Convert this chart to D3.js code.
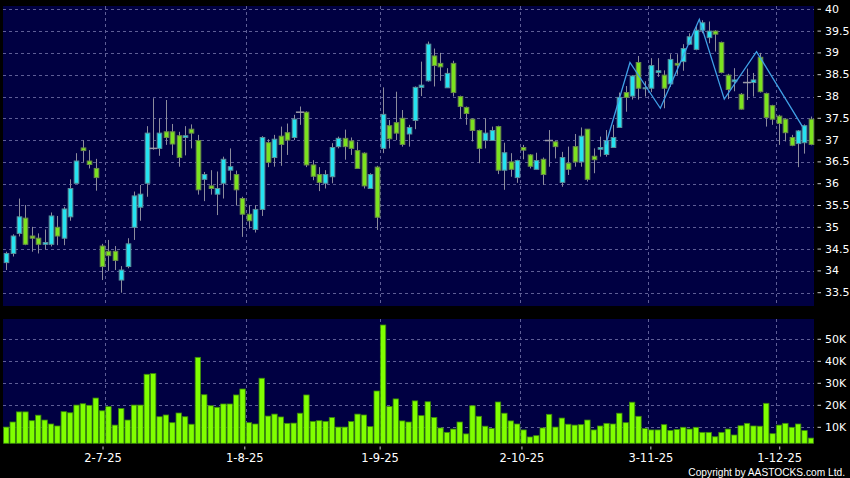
<!DOCTYPE html>
<html><head><meta charset="utf-8">
<script src="https://cdn.jsdelivr.net/npm/d3@7"></script>
<style>body{margin:0;background:#000}svg{display:block}</style>
</head><body><svg id="c" width="850" height="478"></svg>
<script>
// ---- data (daily candles, HK trading days) ----
const openP  = [34.19,34.40,34.86,35.21,34.80,34.75,34.61,34.61,35.00,34.75,35.24,36.01,36.82,36.52,36.35,34.57,34.45,34.45,33.79,34.10,
35.00,35.46,36.01,36.81,36.81,37.19,37.19,37.10,37.06,37.25,36.99,36.10,35.95,35.76,36.01,36.31,36.21,35.66,35.30,34.95,
35.41,36.94,36.60,37.09,37.17,37.06,37.64,37.64,36.43,36.21,36.01,36.16,36.85,37.04,36.98,36.76,36.70,35.89,36.38,36.81,
37.33,37.40,37.50,37.14,37.45,38.21,38.36,38.93,38.76,38.20,38.76,38.00,37.75,37.48,37.22,36.99,36.99,37.31,36.31,36.50,
36.14,36.83,36.66,36.33,36.56,36.99,36.96,36.03,36.47,36.85,36.50,37.25,36.63,36.79,36.67,36.83,37.29,38.09,38.01,38.78,
38.18,38.19,38.55,38.49,38.29,38.76,38.80,39.20,39.08,39.52,39.35,39.50,39.24,38.49,38.34,38.05,38.32,38.32,38.90,38.07,
37.79,37.55,37.48,37.06,36.92,36.94,37.48];
const highP  = [34.44,34.84,35.66,35.51,35.01,34.86,34.95,35.34,35.26,35.47,36.10,36.70,37.00,36.77,36.57,34.62,34.71,34.57,34.11,34.75,
35.82,35.97,37.32,37.96,37.50,37.92,37.37,37.19,37.32,37.36,37.12,36.27,36.31,36.28,36.62,36.81,36.30,35.70,35.51,35.51,
37.09,37.02,37.12,37.31,37.38,37.58,37.77,37.66,36.54,36.38,36.31,36.93,37.08,37.24,37.06,36.96,36.72,36.24,36.41,38.21,
37.46,38.11,37.69,37.35,38.23,38.80,39.26,39.10,39.00,38.65,38.82,38.02,37.77,37.50,37.24,37.50,37.31,37.33,36.94,36.70,
36.55,36.89,36.68,36.71,36.60,37.23,36.98,36.73,36.85,37.14,37.29,37.25,36.81,37.08,37.23,37.35,38.09,38.24,38.49,38.93,
38.35,38.88,38.88,38.60,38.97,38.97,39.20,39.45,39.64,39.75,39.72,39.52,39.26,38.52,38.65,38.08,38.64,38.54,39.00,38.09,
37.81,37.58,37.50,37.12,37.23,37.36,37.54];
const lowP   = [34.02,34.33,34.79,34.59,34.44,34.40,34.49,34.56,34.59,34.59,35.15,36.01,36.50,36.35,35.84,33.79,34.00,34.02,33.50,34.06,
34.71,35.15,35.70,36.78,36.64,36.89,36.66,36.39,36.65,36.81,35.75,35.60,35.75,35.28,35.66,36.08,35.50,34.78,34.97,34.88,
35.26,36.38,36.39,36.41,36.66,37.00,37.35,36.38,36.08,35.83,35.89,36.01,36.81,36.55,36.66,36.35,35.89,35.89,34.94,36.70,
36.81,37.00,36.85,36.85,37.25,38.01,38.34,38.23,38.36,38.20,38.00,37.50,37.35,36.97,36.47,36.81,36.99,36.22,35.86,36.16,
36.02,36.56,36.35,36.33,35.97,36.39,36.58,35.93,36.20,36.39,36.39,36.05,36.24,36.62,36.62,36.83,37.29,37.65,37.93,37.93,
38.00,38.10,38.45,37.73,38.22,38.50,38.59,39.18,39.06,39.45,39.22,39.03,38.53,37.94,38.12,37.70,37.92,38.00,38.09,37.31,
37.35,36.89,36.97,36.86,36.38,36.69,36.88];
const closeP = [34.40,34.80,35.24,34.61,34.75,34.61,34.65,35.26,34.80,35.42,35.89,36.52,36.76,36.44,36.14,34.10,34.35,34.24,34.02,34.62,
35.72,35.76,37.16,36.81,37.16,37.06,36.91,36.60,37.10,37.16,35.86,36.21,35.89,35.89,36.56,36.39,35.86,35.30,35.15,35.41,
37.06,36.49,37.02,36.90,37.00,37.48,37.64,36.43,36.17,36.03,36.21,36.83,37.04,36.85,36.81,36.35,35.95,36.21,35.23,37.59,
37.03,37.16,36.90,37.29,38.21,38.26,39.20,38.71,38.68,38.53,38.09,37.77,37.61,37.22,36.81,37.16,37.22,36.31,36.71,36.33,
36.53,36.77,36.40,36.53,36.21,36.99,36.85,36.60,36.33,36.50,37.09,36.10,36.55,36.83,36.99,37.06,37.98,37.98,38.47,38.19,
38.20,38.71,38.59,38.19,38.85,38.72,39.10,39.37,39.52,39.69,39.50,39.43,38.55,38.16,38.38,37.71,38.32,38.38,38.11,37.52,
37.48,37.38,37.17,36.88,37.21,37.33,36.90];
const volumeK = [10.1,12.4,17.0,17.0,13.0,15.5,13.3,11.5,10.6,17.1,16.6,20.1,20.7,20.0,23.3,17.5,19.4,11.0,18.5,13.3,
20.1,20.1,34.1,34.4,14.8,15.6,12.1,16.5,14.8,11.4,41.8,24.8,19.8,19.1,20.6,20.6,24.7,27.4,12.1,11.5,
32.3,15.1,16.0,14.7,11.8,11.9,16.4,24.7,12.7,13.0,12.7,14.4,10.1,10.1,12.6,16.0,15.6,10.3,26.5,56.5,
19.5,22.9,12.9,12.4,22.0,15.3,21.6,14.5,9.7,7.7,9.2,12.4,7.0,19.8,15.0,10.5,9.5,21.5,16.4,12.9,
11.5,8.8,5.6,6.2,9.7,15.9,10.1,14.2,11.4,11.0,11.2,13.3,8.8,10.6,11.8,11.5,16.4,12.1,21.4,15.0,
9.4,8.8,8.8,11.2,8.6,9.0,10.0,9.2,10.0,7.7,7.7,5.7,7.7,9.2,6.5,10.7,11.8,10.6,10.5,20.9,
7.1,11.0,11.8,10.0,11.5,8.5,5.1];
const priceTicks = [33.5,34,34.5,35,35.5,36,36.5,37,37.5,38,38.5,39,39.5,40];
const volTicks = [10,20,30,40,50];
const volTickLabels = ["10K","20K","30K","40K","50K"];
const dateTickIdx = [16,38,59,81,101,121];
const dateTickLabels = ["2-7-25","1-8-25","1-9-25","2-10-25","3-11-25","1-12-25"];
const zigIdx = [93.9,97.68,102.44,108.54,112.45,117.5,124.7];
const zigVal = [36.90,38.78,37.73,39.77,37.94,39.03,37.31];

// ---- layout ----
const N = openP.length;
const svg = d3.select("#c");
const L = 3, R = 814;
const P1 = {top:6, bottom:306}, P2 = {top:319, bottom:443.3};
const NAVY = "#000042", GRID = "#5e5e96";
const CYAN = "#25e3f0", GREEN = "#7ce21f", VOL = "#80ff00";
const FONT = "'DejaVu Sans', Verdana, sans-serif";

const x = d3.scaleBand().domain(d3.range(N)).range([L, R]).paddingInner(0).paddingOuter(0);
const step = x.step();
const xc = i => L + (i + 0.5) * step;
const xAxisScale = d3.scaleBand().domain(d3.range(N)).range([-0.1, -0.1 + N * 6.445]);
const y = d3.scaleLinear().domain([33.5, 40]).range([292.7, 9.3]);
const yv = d3.scaleLinear().domain([0, 50]).range([449.3, 339.3]);

svg.append("rect").attr("width", 850).attr("height", 478).attr("fill", "#000");
svg.append("rect").attr("x", L).attr("y", P1.top).attr("width", R - L).attr("height", P1.bottom - P1.top).attr("fill", NAVY);
svg.append("rect").attr("x", L).attr("y", P2.top).attr("width", R - L).attr("height", P2.bottom - P2.top).attr("fill", NAVY);

// grid
const grid = svg.append("g").attr("stroke", GRID).attr("stroke-width", 1).attr("stroke-dasharray", "3,3");
grid.selectAll(".hp").data(priceTicks).join("line")
  .attr("x1", L).attr("x2", R).attr("y1", d => Math.round(y(d)) + 0.5).attr("y2", d => Math.round(y(d)) + 0.5);
grid.selectAll(".hv").data(volTicks).join("line")
  .attr("x1", L).attr("x2", R).attr("y1", d => Math.round(yv(d)) + 0.5).attr("y2", d => Math.round(yv(d)) + 0.5);
dateTickIdx.forEach(i => {
  const gx = Math.round(x(i)) + 0.5;
  grid.append("line").attr("x1", gx).attr("x2", gx).attr("y1", P1.top).attr("y2", P1.bottom);
  grid.append("line").attr("x1", gx).attr("x2", gx).attr("y1", P2.top).attr("y2", P2.bottom);
});

// candles
const data = d3.range(N).map(i => ({i, o: openP[i], h: highP[i], l: lowP[i], c: closeP[i], v: volumeK[i]}));
const cg = svg.append("g");
cg.selectAll(".wick").data(data).join("line")
  .attr("x1", d => Math.round(xc(d.i)) + 0.5).attr("x2", d => Math.round(xc(d.i)) + 0.5)
  .attr("y1", d => y(d.h)).attr("y2", d => y(d.l))
  .attr("stroke", "#8c8c9c").attr("stroke-width", 1);
const bw = 4.6;
cg.selectAll(".body").data(data.filter(d => d.o !== d.c)).join("rect")
  .attr("x", d => Math.round(xc(d.i)) + 0.5 - bw / 2)
  .attr("width", bw)
  .attr("y", d => y(Math.max(d.o, d.c)))
  .attr("height", d => Math.max(1, Math.abs(y(d.o) - y(d.c))))
  .attr("fill", d => d.c > d.o ? CYAN : GREEN)
  .attr("stroke", d => d.c > d.o ? "#5a8f9a" : "#6a8a4a")
  .attr("stroke-width", 1);
cg.selectAll(".doji").data(data.filter(d => d.o === d.c)).join("line")
  .attr("x1", d => xc(d.i) - 4).attr("x2", d => xc(d.i) + 4)
  .attr("y1", d => y(d.c)).attr("y2", d => y(d.c))
  .attr("stroke", "#9a9aa8").attr("stroke-width", 1.5);

// zigzag
const zz = zigIdx.map((v, k) => [xc(v), y(zigVal[k])]);
svg.append("path").attr("d", d3.line()(zz)).attr("fill", "none").attr("stroke", "#3fa0e6").attr("stroke-width", 1.3);

// volume
svg.append("g").selectAll("rect").data(data).join("rect")
  .attr("x", d => x(d.i) + 0.6).attr("width", step - 1.0)
  .attr("y", d => yv(d.v)).attr("height", d => P2.bottom - yv(d.v))
  .attr("fill", VOL).attr("stroke", "#3b8a0a").attr("stroke-width", 0.8);

// right axes
const ax = svg.append("g").attr("font-family", FONT).attr("font-size", 11).attr("fill", "#fff");
const fmt = d => Number.isInteger(d) ? String(d) : d.toFixed(1);
priceTicks.forEach(t => {
  ax.append("line").attr("x1", 817.5).attr("x2", 821).attr("y1", y(t)).attr("y2", y(t)).attr("stroke", "#ccc");
  ax.append("text").attr("x", 825).attr("y", y(t)).attr("dominant-baseline", "central").text(fmt(t));
});
volTicks.forEach((t, k) => {
  ax.append("line").attr("x1", 817.5).attr("x2", 821).attr("y1", yv(t)).attr("y2", yv(t)).attr("stroke", "#ccc");
  ax.append("text").attr("x", 825).attr("y", yv(t)).attr("dominant-baseline", "central").text(volTickLabels[k]);
});

// date axis
const dx = svg.append("g").attr("font-family", FONT).attr("font-size", 11.5).attr("fill", "#fff");
dateTickIdx.forEach((i, k) => {
  const tx = xAxisScale(i);
  dx.append("line").attr("x1", tx).attr("x2", tx).attr("y1", 446.5).attr("y2", 449.5).attr("stroke", "#ccc");
  dx.append("text").attr("x", tx).attr("y", 461.8).attr("text-anchor", "middle").text(dateTickLabels[k]);
});

svg.append("text").attr("x", 845).attr("y", 475.5).attr("text-anchor", "end")
  .attr("font-family", "'Liberation Sans', Arial, sans-serif").attr("font-size", 10.2).attr("fill", "#fff")
  .text("Copyright by AASTOCKS.com Ltd.");
</script></body></html>
